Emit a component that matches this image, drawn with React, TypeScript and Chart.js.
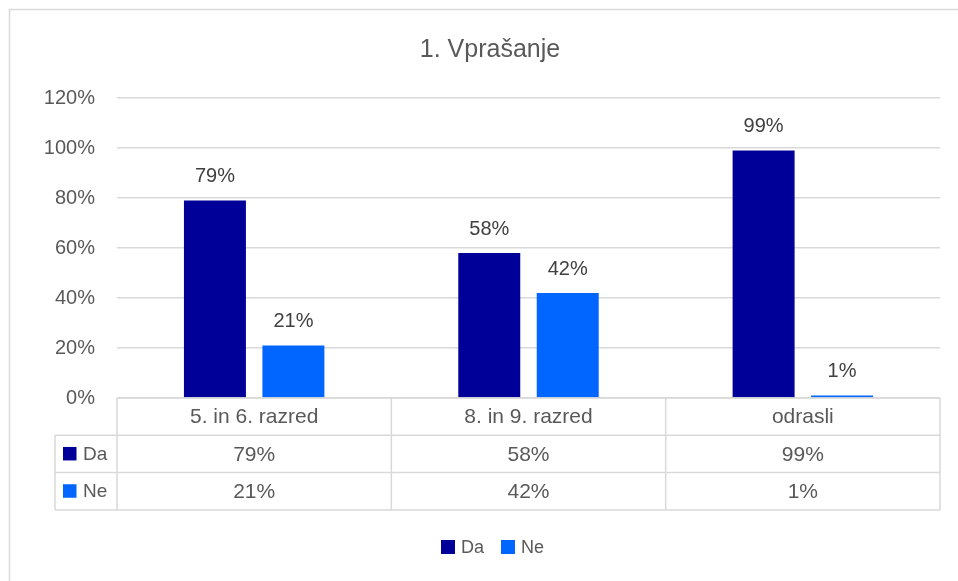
import React, { useEffect, useRef } from "react";
import { Chart, registerables } from "chart.js";

Chart.register(...registerables);

const title = "1. Vprašanje";
const categories = ["5. in 6. razred", "8. in 9. razred", "odrasli"];
const seriesNames = ["Da", "Ne"];
const daValues = [0.79, 0.58, 0.99];
const neValues = [0.21, 0.42, 0.01];
const seriesColors = ["#000099", "#0066FF"];
const yTicksMax = 1.2;
const yTicksStep = 0.2;

const FONT = "'Liberation Sans', Arial, sans-serif";
const TEXT = "#595959";
const LINE = "#d9d9d9";

const pct = (v: number) => Math.round(v * 100) + "%";

const decorPlugin = {
  id: "decor",
  afterDraw(chart: any) {
    const ctx = chart.ctx as CanvasRenderingContext2D;
    const area = chart.chartArea;
    const xs = chart.scales.x;
    const n = categories.length;
    const catW = (area.right - area.left) / n;
    ctx.save();

    // outer border
    ctx.strokeStyle = LINE;
    ctx.lineWidth = 1.5;
    ctx.strokeRect(9.5, 9.5, 1000, 700);

    // title
    ctx.fillStyle = TEXT;
    ctx.font = `25px ${FONT}`;
    ctx.textAlign = "center";
    ctx.textBaseline = "middle";
    ctx.fillText(title, 490, 50);

    // data table
    const rowH = 37.3;
    const top = area.bottom;
    const labelLeft = 55;
    const rows = [top, top + rowH, top + rowH * 2, top + rowH * 3];
    ctx.strokeStyle = LINE;
    ctx.lineWidth = 1.5;
    ctx.beginPath();
    // horizontal
    ctx.moveTo(area.left, rows[0]);
    ctx.lineTo(area.right, rows[0]);
    for (let r = 1; r < 4; r++) {
      ctx.moveTo(labelLeft, rows[r]);
      ctx.lineTo(area.right, rows[r]);
    }
    // verticals
    ctx.moveTo(labelLeft, rows[1]);
    ctx.lineTo(labelLeft, rows[3]);
    for (let i = 0; i <= n; i++) {
      const x = i === 0 ? area.left : i === n ? area.right : xs.getPixelForValue(i - 1) + catW / 2;
      ctx.moveTo(x, rows[0]);
      ctx.lineTo(x, rows[3]);
    }
    ctx.stroke();

    ctx.fillStyle = TEXT;
    ctx.font = `21px ${FONT}`;
    ctx.textAlign = "center";
    ctx.textBaseline = "middle";
    const seriesData = [daValues, neValues];
    categories.forEach((c, i) => {
      const cx = xs.getPixelForValue(i);
      ctx.fillText(c, cx, (rows[0] + rows[1]) / 2 + 1);
      seriesData.forEach((arr, s) => {
        ctx.fillText(pct(arr[i]), cx, (rows[s + 1] + rows[s + 2]) / 2 + 1);
      });
    });
    // row labels with keys
    chart.data.datasets.forEach((ds: any, s: number) => {
      const cy = (rows[s + 1] + rows[s + 2]) / 2;
      ctx.fillStyle = ds.backgroundColor;
      ctx.fillRect(63, cy - 7, 13.5, 13.5);
      ctx.fillStyle = TEXT;
      ctx.textAlign = "left";
      ctx.font = `19px ${FONT}`;
      ctx.fillText(ds.label, 83, cy + 1);
    });

    // legend
    ctx.font = `18px ${FONT}`;
    ctx.textBaseline = "middle";
    const legendY = 547;
    let lx = 441;
    chart.data.datasets.forEach((ds: any) => {
      ctx.fillStyle = ds.backgroundColor;
      ctx.fillRect(lx, legendY - 7, 14, 14);
      ctx.fillStyle = TEXT;
      ctx.textAlign = "left";
      ctx.fillText(ds.label, lx + 20, legendY + 1);
      lx += 60;
    });

    ctx.restore();
  },
  afterDatasetsDraw(chart: any) {
    const ctx = chart.ctx as CanvasRenderingContext2D;
    ctx.save();
    ctx.fillStyle = "#404040";
    ctx.font = `20px ${FONT}`;
    ctx.textAlign = "center";
    ctx.textBaseline = "middle";
    chart.data.datasets.forEach((ds: any, di: number) => {
      const meta = chart.getDatasetMeta(di);
      meta.data.forEach((el: any, i: number) => {
        ctx.fillText(pct(ds.data[i]), el.x, el.y - 24);
      });
    });
    ctx.restore();
  },
};

export default function App() {
  const ref = useRef<HTMLCanvasElement | null>(null);
  useEffect(() => {
    if (!ref.current) return;
    const chart = new Chart(ref.current, {
      type: "bar",
      data: {
        labels: categories,
        datasets: [
          {
            label: seriesNames[0],
            data: daValues,
            backgroundColor: seriesColors[0],
            categoryPercentage: 0.572,
            barPercentage: 0.79,
          },
          {
            label: seriesNames[1],
            data: neValues,
            backgroundColor: seriesColors[1],
            categoryPercentage: 0.572,
            barPercentage: 0.79,
          },
        ],
      },
      options: {
        responsive: false,
        animation: false,
        devicePixelRatio: 1,
        layout: { padding: { left: 0, right: 18, top: 98, bottom: 183 } },
        plugins: {
          legend: { display: false },
          title: { display: false },
          tooltip: { enabled: false },
        },
        scales: {
          x: { display: false },
          y: {
            min: 0,
            max: yTicksMax,
            afterFit: (s: any) => {
              s.width = 117;
            },
            border: { display: false },
            grid: { color: LINE, lineWidth: 1.5, drawTicks: false },
            ticks: {
              stepSize: yTicksStep,
              padding: 22,
              color: TEXT,
              font: { family: FONT, size: 20 },
              callback: (v: any) => pct(Number(v)),
            },
          },
        },
      },
      plugins: [decorPlugin],
    });
    return () => chart.destroy();
  }, []);
  return (
    <div style={{ position: "fixed", left: 0, top: 0, width: 958, height: 581, background: "#fff" }}>
      <canvas ref={ref} width={958} height={581} />
    </div>
  );
}
